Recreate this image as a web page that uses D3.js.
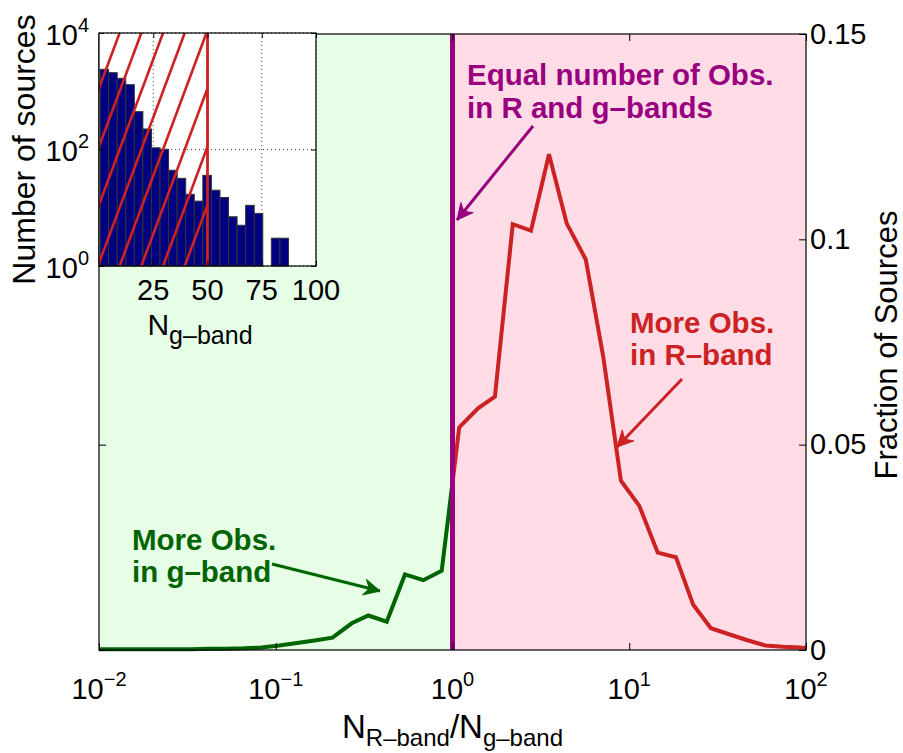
<!DOCTYPE html>
<html><head><meta charset="utf-8">
<script src="https://cdn.jsdelivr.net/npm/d3@7"></script>
<style>
body{margin:0;background:#fff;}
text{font-family:"Liberation Sans",Arial,Helvetica,sans-serif;}
</style></head>
<body><svg id="c" width="903" height="753"></svg>
<script>
// ---------------- DATA ----------------
// main curve: log10(N_R/N_g) bin centres and fraction of sources
const ratioLog10 = [-2.08,-1.98,-1.88,-1.78,-1.68,-1.58,-1.48,-1.38,-1.28,-1.18,-1.08,-0.98,-0.88,-0.78,-0.679,-0.570,-0.476,-0.372,-0.269,-0.165,-0.061,
  0.038,0.146,0.240,0.341,0.444,0.546,0.646,0.754,0.853,0.953,1.057,1.161,1.264,1.362,1.462,1.56,1.66,1.77,1.87,1.97,2.07];
const fraction = [0.0002,0.0002,0.0002,0.0002,0.0002,0.0002,0.0002,0.0003,0.0003,0.0004,0.0006,0.0011,0.0017,0.0023,0.0030,0.0065,0.0084,0.0069,0.0184,0.0170,0.0193,
  0.0542,0.0589,0.0617,0.1037,0.1021,0.1207,0.1039,0.0951,0.0714,0.0412,0.0351,0.0237,0.0226,0.0110,0.0053,0.0039,0.0025,0.0011,0.0008,0.0006,0.0005];
const xTicks = [0.01,0.1,1,10,100];
const xTickExp = ["\u22122","\u22121","0","1","2"];
const yTicks = [0,0.05,0.1,0.15];
const yTickLabels = ["0","0.05","0.1","0.15"];
const equalRatio = 1;

// inset histogram of N_g-band
const binCenters = [2.47,6.42,10.36,14.31,18.25,22.2,26.15,30.09,34.04,37.98,41.93,45.88,49.82,53.77,57.71,61.66,65.61,69.55,73.5,77.44,81.39,85.34];
const binWidth = 3.945;
const counts = [2383,2084,1667,1297,446,225,107,101,44,32,17,13,36,20,15,7,5,11,8,0,3,3];
const insetXTicks = [25,50,75,100];
const insetYTicks = [1,100,10000];
const insetYExp = ["0","2","4"];
const hatchLimit = 50;
const hatchOffsets = [-30.5,-20.5,-10.5,-0.5,9.5,19.5,29.5,39.5];

// ---------------- STYLE ----------------
const C = {green:"#006400", red:"#cc2222", purple:"#990080", bgG:"#e6fde6", bgR:"#ffdce6", navy:"#000080"};
const svg = d3.select("#c");
svg.append("rect").attr("width",903).attr("height",753).attr("fill","#fff");

const L=99,R=806,T=34,B=650;
const mx = d3.scaleLog().domain([0.01,100]).range([L,R]);
const my = d3.scaleLinear().domain([0,0.15]).range([B,T]);

// backgrounds
svg.append("rect").attr("x",mx(0.01)).attr("y",T).attr("width",mx(equalRatio)-mx(0.01)).attr("height",B-T).attr("fill",C.bgG);
svg.append("rect").attr("x",mx(equalRatio)).attr("y",T).attr("width",mx(100)-mx(equalRatio)).attr("height",B-T).attr("fill",C.bgR);

const defs = svg.append("defs");
defs.append("clipPath").attr("id","cg").append("rect").attr("x",L).attr("y",T).attr("width",mx(equalRatio)-L).attr("height",B-T+2);
defs.append("clipPath").attr("id","cr").append("rect").attr("x",mx(equalRatio)).attr("y",T).attr("width",R-mx(equalRatio)).attr("height",B-T+2);

const pts = ratioLog10.map((l,i)=>({r:Math.pow(10,l), f:fraction[i]}));
const line = d3.line().x(d=>mx(d.r)).y(d=>my(d.f));
svg.append("path").datum(pts).attr("d",line).attr("fill","none").attr("stroke",C.green).attr("stroke-width",4).attr("clip-path","url(#cg)");
svg.append("path").datum(pts).attr("d",line).attr("fill","none").attr("stroke",C.red).attr("stroke-width",4).attr("clip-path","url(#cr)");

// equal line
svg.append("line").attr("x1",mx(equalRatio)).attr("x2",mx(equalRatio)).attr("y1",T).attr("y2",B).attr("stroke",C.purple).attr("stroke-width",5);

// axes
function styleAxis(g){g.selectAll("path.domain").remove(); g.selectAll("line").attr("stroke","#000");}
svg.append("g").attr("transform",`translate(0,${B})`).call(d3.axisBottom(mx).tickValues(xTicks).tickFormat("").tickSize(-7).tickSizeOuter(0)).call(styleAxis);
svg.append("g").attr("transform",`translate(0,${T})`).call(d3.axisTop(mx).tickValues(xTicks).tickFormat("").tickSize(-7).tickSizeOuter(0)).call(styleAxis);
svg.append("g").attr("transform",`translate(${L},0)`).call(d3.axisLeft(my).tickValues(yTicks).tickFormat("").tickSize(-7).tickSizeOuter(0)).call(styleAxis);
const ya = svg.append("g").attr("transform",`translate(${R},0)`).call(d3.axisRight(my).tickValues(yTicks).tickFormat((d,i)=>yTickLabels[i]).tickSize(-7).tickPadding(4).tickSizeOuter(0)).call(styleAxis);
ya.selectAll("text").attr("font-size",29).attr("fill","#000").attr("font-family","Liberation Sans, Arial, sans-serif");
svg.append("rect").attr("x",L).attr("y",T).attr("width",R-L).attr("height",B-T).attr("fill","none").attr("stroke","#000").attr("stroke-width",1.2);

// x tick labels
xTicks.forEach((v,i)=>{
  const t = svg.append("text").attr("x",mx(v)).attr("y",699).attr("text-anchor","middle").attr("font-size",29);
  t.append("tspan").text("10");
  t.append("tspan").attr("dy",-13).attr("font-size",20).text(xTickExp[i]);
});
// x label
{
  const t = svg.append("text").attr("x",(L+R)/2).attr("y",738).attr("text-anchor","middle").attr("font-size",33);
  t.append("tspan").text("N");
  t.append("tspan").attr("dy",8).attr("font-size",24).text("R\u2013band");
  t.append("tspan").attr("dy",-8).text("/N");
  t.append("tspan").attr("dy",8).attr("font-size",24).text("g\u2013band");
}
// right y label
svg.append("text").attr("transform","translate(897,345) rotate(-90)").attr("text-anchor","middle").attr("font-size",31).text("Fraction of Sources");

// annotations
function arrow(x1,y1,x2,y2,col){
  svg.append("line").attr("x1",x1).attr("y1",y1).attr("x2",x2).attr("y2",y2).attr("stroke",col).attr("stroke-width",3);
  const a = Math.atan2(y2-y1,x2-x1), hl=16, hw=8, nb=11;
  const bx = x2-hl*Math.cos(a), by = y2-hl*Math.sin(a);
  const nx = x2-nb*Math.cos(a), ny = y2-nb*Math.sin(a);
  const px = -Math.sin(a), py = Math.cos(a);
  svg.append("path").attr("d",`M${x2},${y2}L${bx+px*hw},${by+py*hw}L${nx},${ny}L${bx-px*hw},${by-py*hw}Z`).attr("fill",col).attr("stroke",col).attr("stroke-width",1);
}
function label(lines,x,y0,dy,col){
  lines.forEach((s,i)=>svg.append("text").attr("x",x).attr("y",y0+i*dy).attr("font-size",29.5).attr("font-weight","bold").attr("fill",col).text(s));
}
label(["Equal number of Obs.","in R and g\u2013bands"],467,85,33,C.purple);
arrow(533,126,457,220,C.purple);
label(["More Obs.","in R\u2013band"],630,333,31.5,C.red);
arrow(682,379,617,447,C.red);
label(["More Obs.","in g\u2013band"],132,550,31.5,C.green);
arrow(272,564,380,591,C.green);

// ---------------- INSET ----------------
const iL=99,iR=316,iT=33,iB=266;
const ix = d3.scaleLinear().domain([0,100]).range([iL,iR]);
const iy = d3.scaleLog().domain([1,1e4]).range([iB,iT]);
svg.append("rect").attr("x",iL).attr("y",iT).attr("width",iR-iL).attr("height",iB-iT).attr("fill","#fff");
// grid
const grid = svg.append("g").attr("stroke","#444").attr("stroke-width",1).attr("stroke-dasharray","1,3");
insetXTicks.forEach(v=>grid.append("line").attr("x1",ix(v)).attr("x2",ix(v)).attr("y1",iT).attr("y2",iB));
insetYTicks.forEach(v=>grid.append("line").attr("x1",iL).attr("x2",iR).attr("y1",iy(v)).attr("y2",iy(v)));
// bars
svg.append("g").selectAll("rect").data(binCenters.map((c,i)=>({c,n:counts[i]})).filter(d=>d.n>1)).join("rect")
  .attr("x",d=>ix(d.c-binWidth/2)).attr("width",d=>ix(d.c+binWidth/2)-ix(d.c-binWidth/2))
  .attr("y",d=>iy(d.n)).attr("height",d=>iy(1)-iy(d.n))
  .attr("fill",C.navy).attr("stroke","#333").attr("stroke-width",1);
// hatch
defs.append("clipPath").attr("id","ch").append("rect").attr("x",ix(0)).attr("y",iT).attr("width",ix(hatchLimit)-ix(0)).attr("height",iB-iT);
const hg = svg.append("g").attr("clip-path","url(#ch)");
hatchOffsets.forEach(x0=>hg.append("line").attr("x1",ix(x0)).attr("y1",iy(1)).attr("x2",ix(x0+40)).attr("y2",iy(1e4)).attr("stroke",C.red).attr("stroke-width",2.6));
svg.append("line").attr("x1",ix(hatchLimit)).attr("x2",ix(hatchLimit)).attr("y1",iy(1)).attr("y2",iy(1e4)).attr("stroke",C.red).attr("stroke-width",2.8);
// inset axes ticks
svg.append("g").attr("transform",`translate(0,${iB})`).call(d3.axisBottom(ix).tickValues(insetXTicks).tickFormat("").tickSize(-5).tickSizeOuter(0)).call(styleAxis);
svg.append("g").attr("transform",`translate(0,${iT})`).call(d3.axisTop(ix).tickValues(insetXTicks).tickFormat("").tickSize(-5).tickSizeOuter(0)).call(styleAxis);
svg.append("g").attr("transform",`translate(${iL},0)`).call(d3.axisLeft(iy).tickValues(insetYTicks).tickFormat("").tickSize(-5).tickSizeOuter(0)).call(styleAxis);
svg.append("g").attr("transform",`translate(${iR},0)`).call(d3.axisRight(iy).tickValues(insetYTicks).tickFormat("").tickSize(-5).tickSizeOuter(0)).call(styleAxis);
svg.append("rect").attr("x",iL).attr("y",iT).attr("width",iR-iL).attr("height",iB-iT).attr("fill","none").attr("stroke","#000").attr("stroke-width",1.2);
insetXTicks.forEach(v=>svg.append("text").attr("x",ix(v)).attr("y",iB+34).attr("text-anchor","middle").attr("font-size",29).text(v));
insetYTicks.forEach((v,i)=>{
  const t = svg.append("text").attr("x",iL-10).attr("y",iy(v)+11.5).attr("text-anchor","end").attr("font-size",29);
  t.append("tspan").text("10");
  t.append("tspan").attr("dy",-13).attr("font-size",20).text(insetYExp[i]);
});
{
  const t = svg.append("text").attr("x",200).attr("y",335).attr("text-anchor","middle").attr("font-size",30);
  t.append("tspan").text("N");
  t.append("tspan").attr("dy",9).attr("font-size",25).text("g\u2013band");
}
svg.append("text").attr("transform",`translate(35,${(iT+iB)/2}) rotate(-90)`).attr("text-anchor","middle").attr("font-size",32).text("Number of sources");
</script></body></html>
